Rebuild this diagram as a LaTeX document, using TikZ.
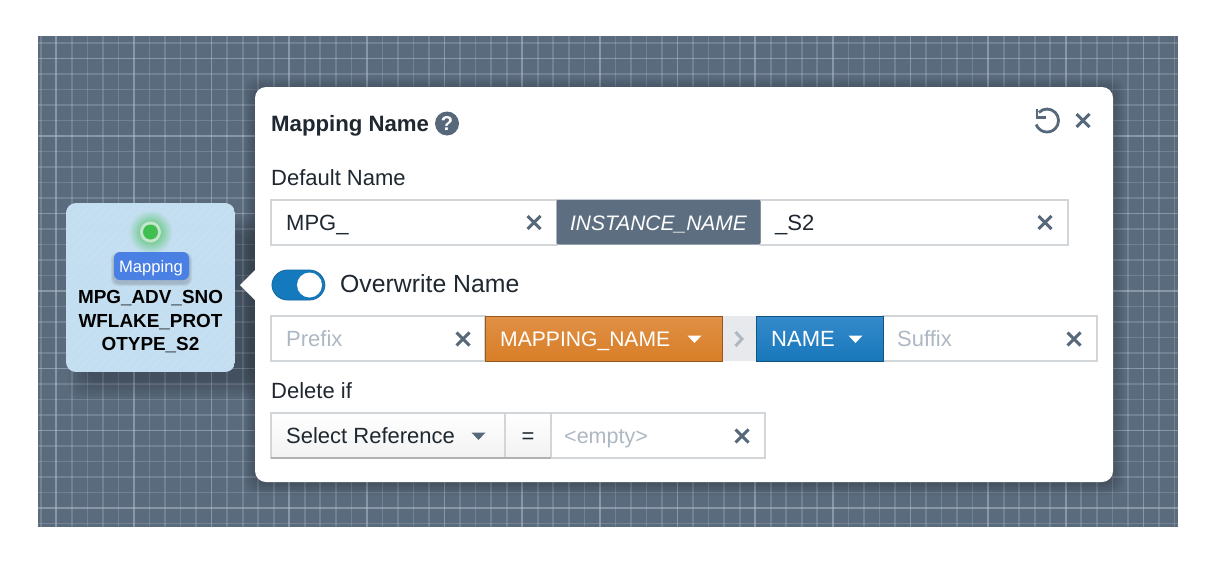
\documentclass[tikz,border=0pt]{standalone}
\usepackage{fontspec}
\setmainfont{Liberation Sans}

\definecolor{slatebg}{HTML}{5A6B7E}
\definecolor{slatechip}{HTML}{5C6E80}
\definecolor{gridline}{HTML}{B8C2CC}
\definecolor{fieldline}{HTML}{D3D6D9}
\definecolor{inktext}{HTML}{1F2730}
\definecolor{hintgrey}{HTML}{AEB8C2}
\definecolor{iconmark}{HTML}{56687A}
\definecolor{cardblue}{HTML}{C3DEF0}
\definecolor{badgeblue}{HTML}{4A80E3}
\definecolor{toggleblue}{HTML}{157ABD}
\definecolor{orangetop}{HTML}{E09045}
\definecolor{orangelow}{HTML}{D87E28}
\definecolor{bluetop}{HTML}{358ACB}
\definecolor{bluelow}{HTML}{1878BA}
\definecolor{statusgreen}{HTML}{3FBF50}
\definecolor{statusring}{HTML}{C4E6CC}

\tikzset{
  anyfield/.style={rectangle, inner sep=0pt, anchor=north west, minimum height=45, outer sep=0pt},
  fieldbox/.style={anyfield, draw=fieldline, line width=1.3pt, fill=white},
  selectbox/.style={anyfield, draw=fieldline, line width=1.1pt, top color=white, bottom color=black!5!white},
  labeltext/.style={anchor=base west, inner sep=0pt, text=inktext, font=\fontsize{22}{26}\selectfont},
  hintlabel/.style={labeltext, text=hintgrey},
  chiptext/.style={labeltext, text=white},
  cardtext/.style={anchor=base, inner sep=0pt, text=black, font=\bfseries\fontsize{18.9}{22}\selectfont},
  closemark/.style={draw=iconmark, line width=3pt},
  caretmark/.style={fill=#1, draw=none}
}

\begin{document}
\begin{tikzpicture}[x=1pt,y=-1pt]
	\useasboundingbox (0,0) rectangle (1217,565);

	% Backdrop and grid
	\fill[slatebg] (38,36) rectangle (1178,527);
	\begin{scope}
		\clip (38,36) rectangle (1178,527);
		\foreach \i in {0,...,73} {
			\pgfmathsetmacro{\gx}{40.8+15.53*\i}
			\pgfmathsetmacro{\gw}{ifthenelse(mod(\i,5)==1,0.5,0.27)}
			\draw[gridline, opacity=\gw, line width=1.7pt] (\gx,36) -- (\gx,527);
		}
		\foreach \j in {0,...,31} {
			\pgfmathsetmacro{\gy}{43+15.5*\j}
			\pgfmathsetmacro{\gw}{ifthenelse(mod(\j,5)==ifthenelse(\j<22,1,0),0.5,0.27)}
			\draw[gridline, opacity=\gw, line width=1.7pt] (38,\gy) -- (1178,\gy);
		}
		% Soft shadows
		\foreach \g in {2,5,...,20} {
			\fill[black, opacity=0.035, rounded corners=14] (88-\g,236-\g) rectangle (250+\g,379+\g);
		}
		\foreach \g in {1,3,...,11} {
			\fill[black, opacity=0.035, rounded corners=12] (255-\g,89-\g) rectangle (1113+\g,484+\g);
		}
	\end{scope}

	% Mapping card
	\begin{scope}
		\clip[rounded corners=10] (66,203) rectangle (235,372);
		\fill[cardblue] (66,203) rectangle (235,372);
		\foreach \s in {0,9,...,360} {
			\draw[white, opacity=0.09, line width=1.2pt] (66+\s-170,372) -- (66+\s,203);
		}
		\shade[inner color=statusgreen, outer color=cardblue] (150.5,232) circle (22);
	\end{scope}
	\node[circle, minimum size=21, inner sep=0pt, fill=statusring] (statusouter) at (150.5,232) {};
	\node[circle, minimum size=15, inner sep=0pt, fill=statusgreen] (statusdot) at (statusouter) {};
	\foreach \g in {1,2,3} {
		\fill[black, opacity=0.06, rounded corners=7] (114-\g,255-\g) rectangle (189+\g,283+\g);
	}
	\node[rectangle, rounded corners=6, fill=badgeblue, minimum width=75, minimum height=28, inner sep=0pt] (typebadge) at (151.5,266) {};
	\node[anchor=base, inner sep=0pt, text=white, font=\fontsize{16.6}{20}\selectfont] (typetext) at (151,272.5) {Mapping};
	\node[cardtext] (cardlineone) at (150.5,303.5) {MPG\_ADV\_SNO};
	\node[cardtext] (cardlinetwo) at (150.5,327) {WFLAKE\_PROT};
	\node[cardtext] (cardlinethree) at (150.5,350) {OTYPE\_S2};

	% Dialog and its pointer
	\fill[white, rounded corners=11] (255,87) rectangle (1113,482);
	\fill[white] (256,269) -- (240,285) -- (256,301) -- cycle;

	% Heading
	\node[anchor=base west, inner sep=0pt, text=inktext, font=\bfseries\fontsize{22.2}{26}\selectfont] (dialogtitle) at (271,131) {Mapping Name};
	\node[circle, fill=iconmark, minimum size=24, inner sep=0pt, text=white, font=\bfseries\fontsize{20}{22}\selectfont] (helpicon) at (447,123.5) {?};
	\draw[iconmark, line width=2.8pt] (1038.9,112.4) arc[start angle=225, end angle=520, radius=11.5];
	\draw[iconmark, line width=2.8pt] (1037,109) -- (1037,117.5) -- (1045.5,117.5);

	% Default name row
	\node[labeltext] (defaultlabel) at (271,185.5) {Default Name};
	\node[fieldbox, minimum width=286] (mpgfield) at (271,200) {};
	\node[fieldbox, minimum width=308] (tailfield) at (760,200) {};
	\node[anyfield, fill=slatechip, rounded corners=2, minimum width=204] (instancechip) at (556.5,199.5) {};
	\node[labeltext] (mpgtext) at (286,230.5) {MPG\_};
	\node[chiptext, font=\itshape\fontsize{21}{26}\selectfont, anchor=base] (instancetext) at (658.5,230.5) {INSTANCE\_NAME};
	\node[labeltext] (tailtext) at (775,230.5) {\_S2};

	% Toggle
	\node[rectangle, rounded corners=15.5, fill=toggleblue, draw=toggleblue!85!black, line width=0.8pt, minimum width=53, minimum height=30, inner sep=0pt, anchor=west] (overwritetoggle) at (271.5,285) {};
	\node[circle, fill=white, minimum size=25, inner sep=0pt] (togglethumb) at (309.5,285) {};
	\node[labeltext, font=\fontsize{24.8}{28}\selectfont] (overwritelabel) at (340,292.5) {Overwrite Name};

	% Overwrite row
	\node[fieldbox, minimum width=214] (prefixfield) at (271,316) {};
	\node[fieldbox, minimum width=214] (suffixfield) at (883,316) {};
	\node[anyfield, fill=slatechip!15!white, minimum width=36] (joinchip) at (721,315.5) {};
	\node[anyfield, top color=orangetop, bottom color=orangelow, draw=orangelow!70!black, line width=1pt, minimum width=237] (mappingchip) at (485,316) {};
	\node[anyfield, top color=bluetop, bottom color=bluelow, draw=bluelow!70!black, line width=1pt, minimum width=127] (namechip) at (756,316) {};
	\node[hintlabel] (prefixtext) at (286,346.5) {Prefix};
	\node[chiptext, font=\fontsize{21.1}{26}\selectfont] (mappingtext) at (500,346.5) {MAPPING\_NAME};
	\node[chiptext] (nametext) at (771,346.5) {NAME};
	\node[hintlabel] (suffixtext) at (897,346.5) {Suffix};
	\draw[hintgrey, line width=3pt] (735.5,332) -- (742,339) -- (735.5,346);

	% Delete row
	\node[labeltext] (deletelabel) at (271,398) {Delete if};
	\node[selectbox, minimum width=234] (referencebox) at (271,413) {};
	\node[selectbox, minimum width=46] (equalsbox) at (505,413) {};
	\node[fieldbox, minimum width=214] (emptyfield) at (551,413) {};
	\draw[black!30!white, line width=1.1pt] (referencebox.south west) -- (equalsbox.south east);
	\node[labeltext] (referencetext) at (286,443.5) {Select Reference};
	\node[labeltext, anchor=base] (equalstext) at (528,443.5) {=};
	\node[hintlabel, font=\fontsize{21.5}{24}\selectfont] (emptytext) at (564,443.5) {<empty>};

	% Close marks
	\foreach \cx/\cy in {534/222.5, 1045/222.5, 463/339, 1074/339, 742/436, 1083/120.5} {
		\draw[closemark] (\cx-6.5,\cy-6.5) -- (\cx+6.5,\cy+6.5);
		\draw[closemark] (\cx-6.5,\cy+6.5) -- (\cx+6.5,\cy-6.5);
	}

	% Carets
	\foreach \cx/\cy/\cc in {694.5/339/white, 855.5/339/white, 478.5/436/iconmark} {
		\fill[caretmark=\cc] (\cx-7,\cy-3.5) -- (\cx+7,\cy-3.5) -- (\cx,\cy+4) -- cycle;
	}
\end{tikzpicture}
\end{document}
